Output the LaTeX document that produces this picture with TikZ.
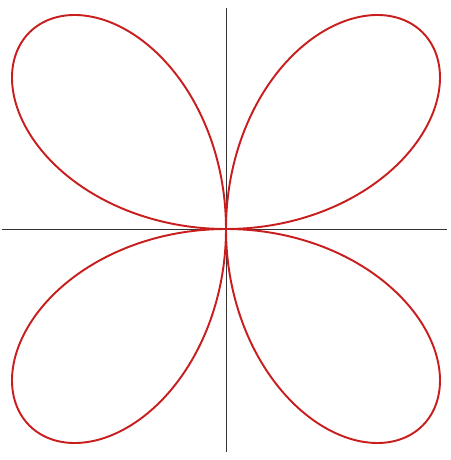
\documentclass[tikz,border=0pt]{standalone}
\usepackage{tikz}
\definecolor{rosered}{RGB}{200,30,30}
\begin{document}
\begin{tikzpicture}[x=0.02cm, y=0.02cm]
                \useasboundingbox (-226,-231) rectangle (224,229);
                \coordinate (xl) at (-224,0);
                \coordinate (xr) at (221,0);
                \coordinate (yb) at (0,-223);
                \coordinate (yt) at (0,221);
                
                % axes
                \draw[black!80, line width=0.5pt] (xl) -- (xr);
                \draw[black!80, line width=0.5pt] (yb) -- (yt);
                
                % rose r = sin(2t)
                \draw[rosered, line width=1.1pt, line join=round] plot[domain=0:360, samples=361, smooth] (\x:{278*sin(2*\x)});
            \end{tikzpicture}
\end{document}
